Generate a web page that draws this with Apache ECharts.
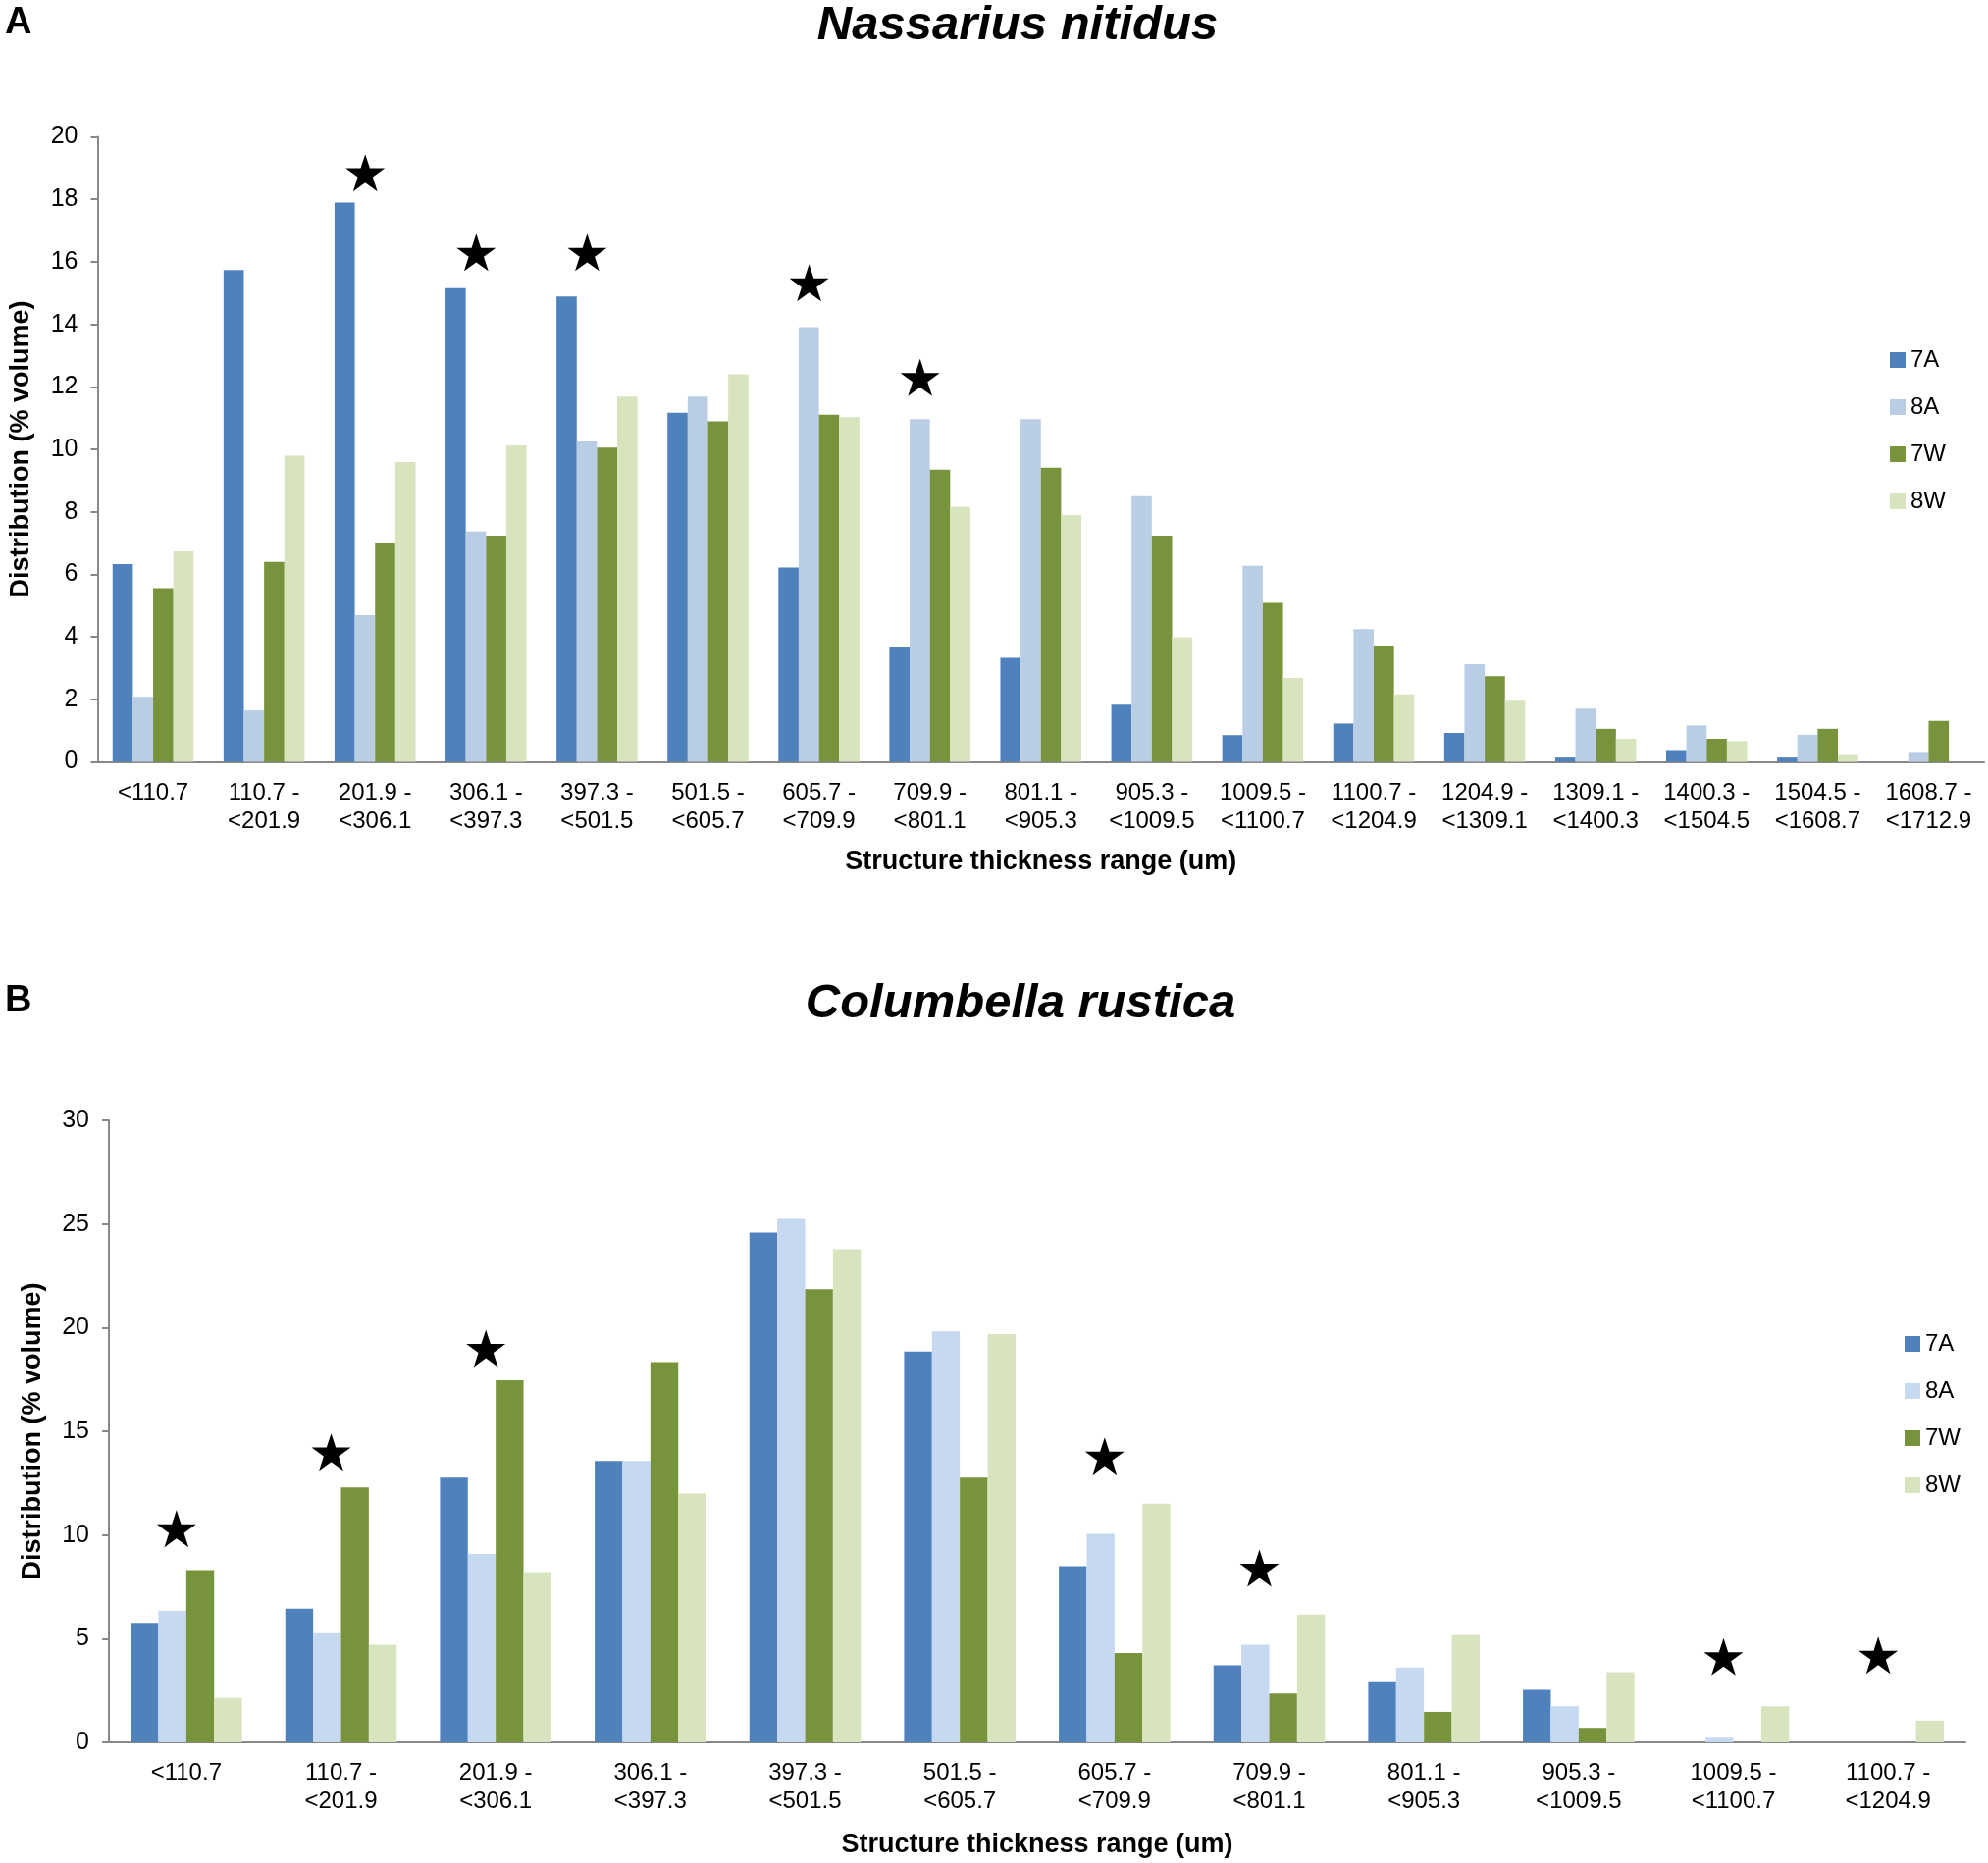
<!DOCTYPE html>
<html>
<head>
<meta charset="utf-8">
<script src="https://cdn.jsdelivr.net/npm/echarts@6/dist/echarts.min.js"></script>
<style>
    html, body { margin: 0; padding: 0; background: #fff; }
    #panelA { position: absolute; left: 0; top: 0; width: 2026px; height: 960px; }
    #panelB { position: absolute; left: 0; top: 960px; width: 2026px; height: 939px; }
</style>
</head>
<body>
<div id="panelA"></div>
<div id="panelB"></div>
<script>
// Series names shared by both panels
var seriesNames = ['7A', '8A', '7W', '8W'];

// Panel A - Nassarius nitidus
var categoriesA = ['<110.7', '110.7 -\n<201.9', '201.9 -\n<306.1', '306.1 -\n<397.3', '397.3 -\n<501.5',
    '501.5 -\n<605.7', '605.7 -\n<709.9', '709.9 -\n<801.1', '801.1 -\n<905.3', '905.3 -\n<1009.5',
    '1009.5 -\n<1100.7', '1100.7 -\n<1204.9', '1204.9 -\n<1309.1', '1309.1 -\n<1400.3',
    '1400.3 -\n<1504.5', '1504.5 -\n<1608.7', '1608.7 -\n<1712.9'];
var a7A = [6.33, 15.74, 17.90, 15.16, 14.89, 11.17, 6.22, 3.66, 3.33, 1.83, 0.86, 1.23, 0.93, 0.14, 0.35, 0.14, 0];
var a8A = [2.08, 1.65, 4.70, 7.37, 10.25, 11.69, 13.91, 10.97, 10.97, 8.50, 6.27, 4.25, 3.13, 1.71, 1.17, 0.87, 0.29];
var a7W = [5.56, 6.40, 6.99, 7.24, 10.06, 10.90, 11.11, 9.35, 9.41, 7.24, 5.09, 3.72, 2.74, 1.06, 0.74, 1.06, 1.31];
var a8W = [6.74, 9.80, 9.59, 10.13, 11.69, 12.40, 11.03, 8.16, 7.90, 3.98, 2.69, 2.16, 1.96, 0.74, 0.67, 0.22, 0];
// height of the significance stars
var starsA = [null, null, 18.85, 16.3, 16.3, null, 15.33, 12.3, null, null, null, null, null, null, null, null, null];

// Panel B - Columbella rustica
var categoriesB = ['<110.7', '110.7 -\n<201.9', '201.9 -\n<306.1', '306.1 -\n<397.3', '397.3 -\n<501.5',
    '501.5 -\n<605.7', '605.7 -\n<709.9', '709.9 -\n<801.1', '801.1 -\n<905.3', '905.3 -\n<1009.5',
    '1009.5 -\n<1100.7', '1100.7 -\n<1204.9'];
var b7A = [5.76, 6.45, 12.77, 13.57, 24.58, 18.84, 8.49, 3.72, 2.94, 2.53, 0, 0];
var b8A = [6.34, 5.27, 9.08, 13.57, 25.25, 19.81, 10.06, 4.71, 3.61, 1.74, 0.22, 0];
var b7W = [8.30, 12.29, 17.46, 18.34, 21.85, 12.77, 4.31, 2.35, 1.47, 0.70, 0, 0];
var b8W = [2.14, 4.71, 8.21, 12.00, 23.78, 19.68, 11.51, 6.16, 5.17, 3.38, 1.74, 1.05];
var starsB = [10.3, 14.0, 19.0, null, null, null, 13.8, 8.4, null, null, 4.13, 4.2];

var starPath = 'path://M50,0 L61.2,34.5 L97.6,34.5 L68.2,55.9 L79.4,90.5 L50,69.1 L20.6,90.5 L31.8,55.9 L2.4,34.5 L38.8,34.5 Z';
var fontFamily = 'Arial, "Liberation Sans", Helvetica, sans-serif';
var axisColor = '#888888';

function buildPanel(el, conf) {
    var colors = conf.colors;
    var series = conf.values.map(function (vals, i) {
        return {
            name: seriesNames[i],
            type: 'bar',
            data: vals,
            barGap: '0%',
            barCategoryGap: conf.catGap,
            itemStyle: { color: colors[i] },
            emphasis: { disabled: true }
        };
    });
    // significance stars
    series.push({
        name: 'stars',
        type: 'scatter',
        data: conf.stars,
        symbol: starPath,
        symbolSize: [40, 38],
        symbolOffset: [-10, 0],
        itemStyle: { color: '#000', opacity: 1 },
        emphasis: { disabled: true },
        z: 5
    });

    var option = {
        animation: false,
        textStyle: { fontFamily: fontFamily, color: '#000' },
        title: [{
            text: conf.letter,
            left: 5,
            top: conf.titleTop + 5,
            padding: 0,
            textStyle: { fontSize: 38, fontWeight: 'bold', fontFamily: fontFamily, color: '#000' }
        }, {
            text: conf.title,
            left: conf.titleCenter,
            textAlign: 'center',
            top: conf.titleTop + 2,
            padding: 0,
            textStyle: { fontSize: 49, fontWeight: 'bold', fontStyle: 'italic', fontFamily: fontFamily, color: '#000' }
        }],
        legend: {
            data: seriesNames,
            orient: 'vertical',
            left: conf.legendLeft,
            top: conf.legendTop,
            icon: 'rect',
            itemWidth: 16,
            itemHeight: 16,
            itemGap: 24,
            textStyle: { fontSize: 24, fontFamily: fontFamily, color: '#000' }
        },
        grid: conf.grid,
        xAxis: {
            type: 'category',
            data: conf.categories,
            name: 'Structure thickness range (um)',
            nameLocation: 'middle',
            nameGap: conf.xNameGap,
            nameTextStyle: { fontSize: 27, fontWeight: 'bold', color: '#000' },
            axisLine: { lineStyle: { color: axisColor, width: 2 } },
            axisTick: { length: 8, lineStyle: { color: axisColor, width: 2 } },
            axisLabel: { fontSize: 24, lineHeight: 29, margin: 17, color: '#000', interval: 0 }
        },
        yAxis: {
            type: 'value',
            min: 0,
            max: conf.yMax,
            interval: conf.yStep,
            name: 'Distribution (% volume)',
            nameLocation: 'middle',
            nameGap: conf.yNameGap,
            nameTextStyle: { fontSize: 27, fontWeight: 'bold', color: '#000' },
            axisLine: { show: true, lineStyle: { color: axisColor, width: 2 } },
            axisTick: { show: true, length: 7, lineStyle: { color: axisColor, width: 2 } },
            axisLabel: { fontSize: 25, margin: 20, color: '#000' },
            splitLine: { show: false }
        },
        series: series
    };
    var chart = echarts.init(el);
    chart.setOption(option);
    return chart;
}

buildPanel(document.getElementById('panelA'), {
    letter: 'A',
    title: 'Nassarius nitidus',
    titleCenter: 1037,
    titleTop: 0,
    categories: categoriesA,
    values: [a7A, a8A, a7W, a8W],
    stars: starsA,
    colors: ['#4F81BD', '#B9CDE5', '#77933C', '#D7E4BD'],
    catGap: '27%',
    grid: { left: 99.5, right: 4, top: 139.5, bottom: 183.4 },
    yMax: 20,
    yStep: 2,
    xNameGap: 88,
    yNameGap: 64,
    legendLeft: 1921,
    legendTop: 350
});

buildPanel(document.getElementById('panelB'), {
    letter: 'B',
    title: 'Columbella rustica',
    titleCenter: 1040,
    titleTop: 37,
    categories: categoriesB,
    values: [b7A, b8A, b7W, b8W],
    stars: starsB,
    colors: ['#4F81BD', '#C6D9F0', '#77933C', '#D7E4BD'],
    catGap: '28%',
    grid: { left: 111, right: 23, top: 182, bottom: 119 },
    yMax: 30,
    yStep: 5,
    xNameGap: 91,
    yNameGap: 64,
    legendLeft: 1936,
    legendTop: 393
});
</script>
</body>
</html>
